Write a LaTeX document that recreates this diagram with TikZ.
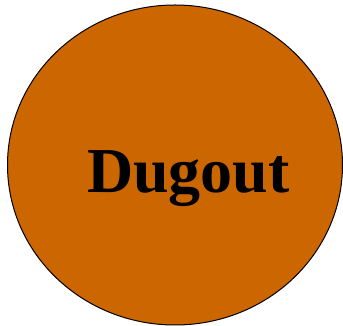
\documentclass[tikz,border=0pt]{standalone}
\usepackage{fontspec}
\setmainfont{Liberation Serif}
\usetikzlibrary{shapes.geometric,positioning}
\definecolor{dugoutbrown}{HTML}{CC6600}

\begin{document}
\begin{tikzpicture}[
  x=1pt,y=1pt,
  blob/.style={ellipse,draw=black,line width=1pt,fill=dugoutbrown,inner sep=0pt,minimum width=335pt,minimum height=320pt},
  title/.style={font=\fontsize{64}{64}\selectfont\bfseries,inner sep=0pt,anchor=base},
]
\useasboundingbox (0,0) rectangle (343,326);
\node[blob] (dugout) at (175,161) {};
\node[title] (name) at (188.5,133) {Dugout};
\end{tikzpicture}
\end{document}
